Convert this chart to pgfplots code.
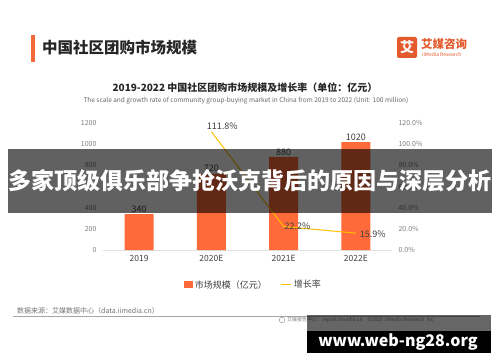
\documentclass[border=0pt]{standalone}
\usepackage{fontspec}
\setmainfont{Noto Sans CJK SC}
\usepackage{pgfplots}
\pgfplotsset{compat=1.18}
\definecolor{barorange}{HTML}{FF6A3A}
\definecolor{lineyellow}{HTML}{FFC000}
\definecolor{titleorange}{HTML}{F26A3A}
\definecolor{logoorange}{HTML}{E35A2C}
\definecolor{darktext}{HTML}{404040}
\definecolor{ticktext}{HTML}{7F7F7F}
\pgfplotsset{/pgf/number format/1000 sep={}, /pgf/number format/assume math mode=true}
\begin{document}
\begin{tikzpicture}
\useasboundingbox (0,0) rectangle (500pt,362pt);
\fill[white] (0,0) rectangle (500pt,362pt);
% header
\fill[titleorange] (31pt,300pt) rectangle (35pt,327pt);
\node[anchor=west, inner sep=0pt, font=\fontsize{15.5}{17}\selectfont\bfseries, text=black!85] at (42pt,314pt) {中国社区团购市场规模};
\fill[logoorange, rounded corners=2pt] (397pt,304pt) rectangle (417pt,325pt);
\node[text=white, font=\fontsize{14}{16}\selectfont\bfseries, inner sep=0pt] at (407pt,314.5pt) {艾};
\node[anchor=west, inner sep=0pt, text=logoorange, font=\fontsize{11.5}{13}\selectfont\bfseries] at (421pt,318pt) {艾媒咨询};
\node[anchor=west, inner sep=0pt, text=logoorange, font=\fontsize{5}{6}\selectfont] at (422pt,307.5pt) {iiMedia Research};
% chart titles
\node[inner sep=0pt, font=\fontsize{10}{12}\selectfont\bfseries, text=black!85] at (245pt,274pt) {2019-2022 中国社区团购市场规模及增长率（单位：亿元）};
\node[inner sep=0pt, font=\fontsize{6.5}{7.5}\selectfont, text=black!60] at (246pt,261pt) {The scale and growth rate of community group-buying market in China from 2019 to 2022 (Unit: 100 million)};
% primary axis
\begin{axis}[
  at={(103pt,112pt)}, anchor=south west, scale only axis,
  width=289pt, height=127pt,
  xmin=-0.5, xmax=3.5, ymin=0, ymax=1200,
  axis x line*=bottom, axis y line*=left,
  y axis line style={draw=none},
  x axis line style={draw=black!12, line width=0.8pt},
  xtick={0,1,2,3}, xticklabels={2019,2020E,2021E,2022E},
  ytick={0,200,400,600,800,1000,1200},
  major tick length=0pt,
  xticklabel style={font=\fontsize{8.5}{10}\selectfont, text=darktext, yshift=-2pt},
  yticklabel style={font=\fontsize{7}{8}\selectfont, text=ticktext, xshift=-3pt},
  legend style={at={(0.52,-0.275)}, anchor=center, draw=none, fill=none,
    legend columns=2, font=\fontsize{9}{10}\selectfont, text=darktext,
    /tikz/every even column/.append style={column sep=12pt}},
  legend cell align=left,
]
\addplot[ybar, bar width=29pt, fill=barorange, draw=none,
  nodes near coords, nodes near coords style={font=\fontsize{9}{10}\selectfont, text=darktext, inner sep=1.5pt},
  legend image code/.code={\fill[barorange] (0pt,-3.5pt) rectangle (9pt,4pt);}]
  coordinates {(0,340) (1,720) (2,880) (3,1020)};
\addlegendentry{市场规模（亿元）}
\addlegendimage{legend image code/.code={\draw[lineyellow, line width=1pt] (0pt,0pt) -- (10pt,0pt);}}
\addlegendentry{增长率}
\end{axis}
% secondary axis
\begin{axis}[
  at={(103pt,112pt)}, anchor=south west, scale only axis,
  width=289pt, height=127pt,
  xmin=-0.5, xmax=3.5, ymin=0, ymax=120,
  axis x line=none, axis y line*=right,
  y axis line style={draw=none},
  ytick={0,20,40,60,80,100,120},
  major tick length=0pt,
  yticklabel={\pgfmathprintnumber[fixed,fixed zerofill,precision=1]{\tick}\%},
  yticklabel style={font=\fontsize{7}{8}\selectfont, text=ticktext, xshift=3pt},
]
\addplot[lineyellow, line width=1pt, mark=none,
  visualization depends on={value \thisrow{anc} \as \anc},
  visualization depends on={\thisrow{dx} \as \dx},
  visualization depends on={\thisrow{dy} \as \dy},
  nodes near coords={\pgfmathprintnumber[fixed,fixed zerofill,precision=1]{\pgfplotspointmeta}\%},
  every node near coord/.append style={anchor=\anc, xshift=\dx pt, yshift=\dy pt, font=\fontsize{9}{10}\selectfont, text=darktext, inner sep=0.5pt},
] table[x=x, y=y] {
x y anc dx dy
1 111.8 south 11 1
2 22.2 west 0 0
3 15.9 west 3 -1
};
\end{axis}
% source and footer
\node[anchor=west, inner sep=0pt, font=\fontsize{7}{8}\selectfont, text=black!55] at (17pt,51pt) {数据来源：艾媒数据中心（data.iimedia.cn）};
\draw[black!35, line width=0.8pt] (13pt,46pt) -- (480pt,46pt);
\draw[black!45, line width=0.4pt] (282pt,42pt) circle (2.8pt);
\node[anchor=west, inner sep=0pt, font=\fontsize{5}{6}\selectfont, text=black!50] at (287pt,42pt) {艾媒报告中心：report.iimedia.cn\quad ©2020\ \ iiMedia Research\ \ Inc};
% overlay banner
\fill[black, opacity=0.62] (8pt,149pt) rectangle (492pt,213pt);
\node[text=white, inner sep=0pt, font=\fontsize{23}{26}\selectfont\bfseries] at (250pt,181pt) {多家顶级俱乐部争抢沃克背后的原因与深层分析};
% watermark
\fill[black, opacity=0.6] (307pt,31pt) rectangle (491pt,47pt);
\fill[black] (307pt,9pt) rectangle (491pt,31pt);
\node[text=white, inner sep=0pt, font=\fontsize{16}{18}\selectfont\bfseries] at (398pt,20pt) {www.web-ng28.org};
\end{tikzpicture}
\end{document}
